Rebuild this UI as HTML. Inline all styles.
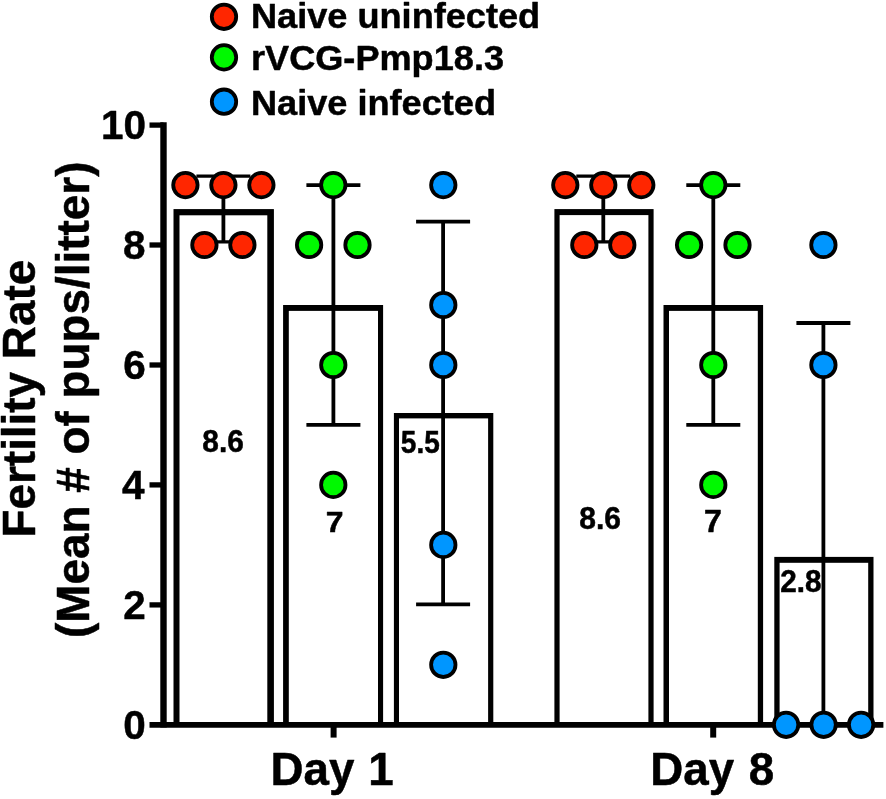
<!DOCTYPE html>
<html><head><meta charset="utf-8"><title>Fertility Rate</title>
<style>html,body{margin:0;padding:0;background:#fff}svg{display:block}text{font-family:"Liberation Sans",sans-serif;font-weight:bold;fill:#000;stroke:#000;stroke-width:0.5px;stroke-linejoin:round}</style></head><body>
<svg width="886" height="799" viewBox="0 0 886 799">
<defs><filter id="soft" x="0" y="0" width="886" height="799" filterUnits="userSpaceOnUse"><feGaussianBlur stdDeviation="0.55"/></filter></defs>
<rect width="886" height="799" fill="#fff"/>
<g filter="url(#soft)">
<rect width="886" height="799" fill="#fff"/>
<rect x="173.5" y="209.1" width="100.4" height="515.7" fill="#000"/>
<rect x="179.5" y="215.3" width="87.8" height="509.5" fill="#fff"/>
<rect x="283.1" y="305.0" width="100.0" height="419.8" fill="#000"/>
<rect x="288.8" y="310.9" width="89.2" height="413.9" fill="#fff"/>
<rect x="393.9" y="413.0" width="99.4" height="311.8" fill="#000"/>
<rect x="399.0" y="418.4" width="89.1" height="306.4" fill="#fff"/>
<rect x="554.4" y="209.1" width="99.2" height="515.7" fill="#000"/>
<rect x="559.6" y="215.1" width="88.8" height="509.7" fill="#fff"/>
<rect x="663.5" y="305.0" width="99.6" height="419.8" fill="#000"/>
<rect x="669.0" y="310.9" width="88.8" height="413.9" fill="#fff"/>
<rect x="774.3" y="556.9" width="99.2" height="167.9" fill="#000"/>
<rect x="779.6" y="562.8" width="88.6" height="162.0" fill="#fff"/>
<g stroke="#000" stroke-width="5.7" fill="none">
<line x1="163.5" y1="122.3" x2="163.5" y2="727.6" stroke-width="6.4"/>
<line x1="149.5" y1="724.8" x2="883.4" y2="724.8"/>
<line x1="149.5" y1="604.9" x2="163.5" y2="604.9" stroke-width="5.3"/>
<line x1="149.5" y1="484.9" x2="163.5" y2="484.9" stroke-width="5.3"/>
<line x1="149.5" y1="365.0" x2="163.5" y2="365.0" stroke-width="5.3"/>
<line x1="149.5" y1="245.0" x2="163.5" y2="245.0" stroke-width="5.3"/>
<line x1="149.5" y1="125.1" x2="163.5" y2="125.1" stroke-width="5.3"/>
<line x1="333.6" y1="724.8" x2="333.6" y2="737.6" stroke-width="6"/>
<line x1="713.2" y1="724.8" x2="713.2" y2="737.6" stroke-width="6"/>
</g>
<g stroke="#000" stroke-width="3.8" fill="none" stroke-linecap="butt">
<line x1="223.4" y1="176.2" x2="223.4" y2="241.9"/>
<line x1="196.4" y1="176.2" x2="250.4" y2="176.2" stroke-width="3.2"/>
<line x1="196.4" y1="241.9" x2="250.4" y2="241.9" stroke-width="3.2"/>
<line x1="333.4" y1="185.1" x2="333.4" y2="424.9"/>
<line x1="306.4" y1="185.1" x2="360.4" y2="185.1"/>
<line x1="306.4" y1="424.9" x2="360.4" y2="424.9"/>
<line x1="443.1" y1="221.7" x2="443.1" y2="604.3"/>
<line x1="416.1" y1="221.7" x2="470.1" y2="221.7"/>
<line x1="416.1" y1="604.3" x2="470.1" y2="604.3"/>
<line x1="603.3" y1="176.2" x2="603.3" y2="241.9"/>
<line x1="576.3" y1="176.2" x2="630.3" y2="176.2" stroke-width="3.2"/>
<line x1="576.3" y1="241.9" x2="630.3" y2="241.9" stroke-width="3.2"/>
<line x1="713.3" y1="185.1" x2="713.3" y2="424.9"/>
<line x1="686.3" y1="185.1" x2="740.3" y2="185.1"/>
<line x1="686.3" y1="424.9" x2="740.3" y2="424.9"/>
<line x1="823.4" y1="323.0" x2="823.4" y2="724.8"/>
<line x1="796.4" y1="323.0" x2="850.4" y2="323.0"/>
</g>
<circle cx="185.4" cy="185.1" r="12.2" fill="#ff2600" stroke="#000" stroke-width="3.8"/>
<circle cx="223.4" cy="185.1" r="12.2" fill="#ff2600" stroke="#000" stroke-width="3.8"/>
<circle cx="261.4" cy="185.1" r="12.2" fill="#ff2600" stroke="#000" stroke-width="3.8"/>
<circle cx="204.4" cy="245.0" r="12.2" fill="#ff2600" stroke="#000" stroke-width="3.8"/>
<circle cx="242.4" cy="245.0" r="12.2" fill="#ff2600" stroke="#000" stroke-width="3.8"/>
<circle cx="565.3" cy="185.1" r="12.2" fill="#ff2600" stroke="#000" stroke-width="3.8"/>
<circle cx="603.3" cy="185.1" r="12.2" fill="#ff2600" stroke="#000" stroke-width="3.8"/>
<circle cx="641.3" cy="185.1" r="12.2" fill="#ff2600" stroke="#000" stroke-width="3.8"/>
<circle cx="584.3" cy="245.0" r="12.2" fill="#ff2600" stroke="#000" stroke-width="3.8"/>
<circle cx="622.3" cy="245.0" r="12.2" fill="#ff2600" stroke="#000" stroke-width="3.8"/>
<circle cx="333.3" cy="185.1" r="12.2" fill="#00f900" stroke="#000" stroke-width="3.8"/>
<circle cx="309.1" cy="245.0" r="12.2" fill="#00f900" stroke="#000" stroke-width="3.8"/>
<circle cx="357.5" cy="245.0" r="12.2" fill="#00f900" stroke="#000" stroke-width="3.8"/>
<circle cx="333.3" cy="365.0" r="12.2" fill="#00f900" stroke="#000" stroke-width="3.8"/>
<circle cx="333.3" cy="484.9" r="12.2" fill="#00f900" stroke="#000" stroke-width="3.8"/>
<circle cx="713.3" cy="185.1" r="12.2" fill="#00f900" stroke="#000" stroke-width="3.8"/>
<circle cx="689.1" cy="245.0" r="12.2" fill="#00f900" stroke="#000" stroke-width="3.8"/>
<circle cx="737.5" cy="245.0" r="12.2" fill="#00f900" stroke="#000" stroke-width="3.8"/>
<circle cx="713.3" cy="365.0" r="12.2" fill="#00f900" stroke="#000" stroke-width="3.8"/>
<circle cx="713.3" cy="484.9" r="12.2" fill="#00f900" stroke="#000" stroke-width="3.8"/>
<circle cx="443.3" cy="185.1" r="12.2" fill="#0096ff" stroke="#000" stroke-width="3.8"/>
<circle cx="443.3" cy="305.0" r="12.2" fill="#0096ff" stroke="#000" stroke-width="3.8"/>
<circle cx="443.3" cy="365.0" r="12.2" fill="#0096ff" stroke="#000" stroke-width="3.8"/>
<circle cx="443.3" cy="544.9" r="12.2" fill="#0096ff" stroke="#000" stroke-width="3.8"/>
<circle cx="443.3" cy="664.8" r="12.2" fill="#0096ff" stroke="#000" stroke-width="3.8"/>
<circle cx="823.4" cy="245.0" r="12.2" fill="#0096ff" stroke="#000" stroke-width="3.8"/>
<circle cx="823.4" cy="365.0" r="12.2" fill="#0096ff" stroke="#000" stroke-width="3.8"/>
<circle cx="786.1" cy="724.8" r="12.2" fill="#0096ff" stroke="#000" stroke-width="3.8"/>
<circle cx="823.6" cy="724.8" r="12.2" fill="#0096ff" stroke="#000" stroke-width="3.8"/>
<circle cx="861.1" cy="724.8" r="12.2" fill="#0096ff" stroke="#000" stroke-width="3.8"/>
<circle cx="224.0" cy="16.8" r="12.2" fill="#ff2600" stroke="#000" stroke-width="3.8"/>
<circle cx="224.0" cy="57.4" r="12.2" fill="#00f900" stroke="#000" stroke-width="3.8"/>
<circle cx="224.0" cy="101.7" r="12.2" fill="#0096ff" stroke="#000" stroke-width="3.8"/>
<text font-size="35.60" transform="translate(251.00,28.20) scale(1.0154,1)">Naive uninfected</text>
<text font-size="35.60" transform="translate(251.00,69.50) scale(1.0154,1)">rVCG-Pmp18.3</text>
<text font-size="35.60" transform="translate(251.00,114.70) scale(1.0154,1)">Naive infected</text>
<text font-size="40.71" transform="translate(123.37,739.00) scale(0.9934,1.015)">0</text>
<text font-size="40.71" transform="translate(123.37,619.27) scale(0.9934,1.015)">2</text>
<text font-size="40.71" transform="translate(121.96,499.12) scale(0.9934,1.015)">4</text>
<text font-size="40.71" transform="translate(123.17,379.18) scale(0.9934,1.015)">6</text>
<text font-size="40.71" transform="translate(122.97,259.24) scale(0.9934,1.015)">8</text>
<text font-size="40.71" transform="translate(100.93,139.30) scale(0.9934,1.015)">10</text>
<text font-size="46.90" transform="translate(270.51,785.00) scale(0.9752,1)">Day <tspan dx="1.2">1</tspan></text>
<text font-size="46.90" transform="translate(650.31,785.00) scale(0.9752,1)">Day <tspan dx="2">8</tspan></text>
<text font-size="46.5" transform="translate(35.3,537.5) rotate(-90) scale(0.9865,1)">Fertility Rate</text>
<text font-size="46.5" transform="translate(89.3,638) rotate(-90) scale(0.9865,1)">(Mean # of pups/litter)</text>
<text font-size="31.66" transform="translate(202.33,451.58) scale(0.9434,1)">8.6</text>
<text font-size="30.40" transform="translate(325.64,531.80) scale(1.0498,1)">7</text>
<text font-size="30.82" transform="translate(400.86,453.29) scale(0.9081,1)">5.5</text>
<text font-size="30.81" transform="translate(579.22,529.09) scale(0.9742,1)">8.6</text>
<text font-size="30.69" transform="translate(704.03,531.70) scale(1.0468,1)">7</text>
<text font-size="30.67" transform="translate(780.16,591.69) scale(0.9670,1)">2.8</text>
</g>
</svg></body></html>
